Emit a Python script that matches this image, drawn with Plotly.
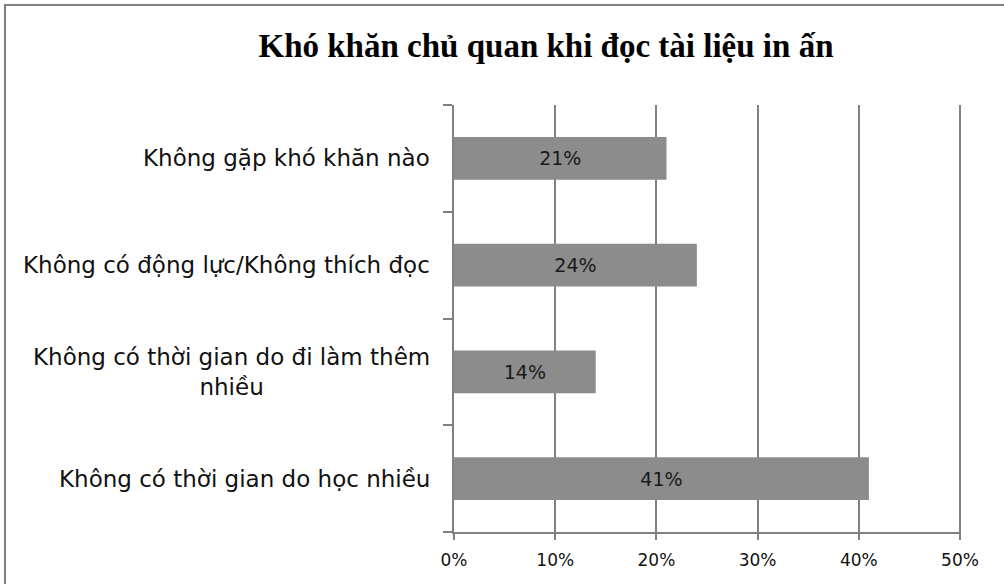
import plotly.graph_objects as go

categories = [
    "Không có thời gian do học nhiều",
    "Không có thời gian do đi làm thêm<br>nhiều",
    "Không có động lực/Không thích đọc",
    "Không gặp khó khăn nào",
]
values = [41, 14, 24, 21]
x_ticks = [0, 10, 20, 30, 40, 50]
x_tick_labels = ["0%", "10%", "20%", "30%", "40%", "50%"]
title = "Khó khăn chủ quan khi đọc tài liệu in ấn"

W, H = 1004, 584
L, R, T, B = 454, 43, 105, 52
pw, ph = W - L - R, H - T - B

fig = go.Figure()
fig.add_trace(go.Bar(
    y=categories, x=values, orientation="h",
    marker=dict(color="#8c8c8c", line=dict(width=0)),
    width=0.4,
    text=[f"{v}%" for v in values], textposition="inside",
    insidetextanchor="middle",
    textfont=dict(family="DejaVu Sans", size=19, color="#1a1a1a"),
    hoverinfo="skip",
))

for c in categories:
    fig.add_annotation(
        x=0, xref="paper", y=c, yref="y", text=c,
        xanchor="right", xshift=-22, align="center", showarrow=False,
        font=dict(family="DejaVu Sans", size=23, color="#111111"),
    )

# outer chart border (left and top visible)
fig.add_shape(type="rect", xref="paper", yref="paper",
              x0=(5 - L) / pw, x1=(W + 10 - L) / pw,
              y0=-(H + 10 - T - ph) / ph, y1=(H - 5 - B) / ph,
              line=dict(color="#7f7f7f", width=2), layer="below")

fig.update_layout(
    width=W, height=H,
    margin=dict(l=L, r=R, t=T, b=B),
    paper_bgcolor="white", plot_bgcolor="white",
    showlegend=False,
    title=dict(text=f"<b>{title}</b>", x=546 / W, xanchor="center",
               y=1 - 45 / H, yanchor="middle",
               font=dict(family="Liberation Serif", size=33, color="#000000")),
    xaxis=dict(range=[0, 50.1], tickvals=x_ticks, ticktext=x_tick_labels,
               showgrid=True, gridcolor="#808080", gridwidth=2,
               showline=True, linecolor="#808080", linewidth=2,
               ticks="outside", ticklen=6, tickcolor="#808080", tickwidth=2,
               ticklabelstandoff=6,
               tickfont=dict(family="DejaVu Sans", size=17, color="#111111"),
               zeroline=False, fixedrange=True),
    yaxis=dict(categoryorder="array", categoryarray=categories,
               showticklabels=False, tickson="boundaries",
               ticks="outside", ticklen=9, tickcolor="#808080", tickwidth=2,
               showline=True, linecolor="#808080", linewidth=2,
               showgrid=False, zeroline=False, fixedrange=True),
    bargap=0.6,
)

fig.write_html(
    "out.html",
    config={"displayModeBar": False},
    post_script="document.body.style.margin='0px';document.body.style.overflow='hidden';",
)
